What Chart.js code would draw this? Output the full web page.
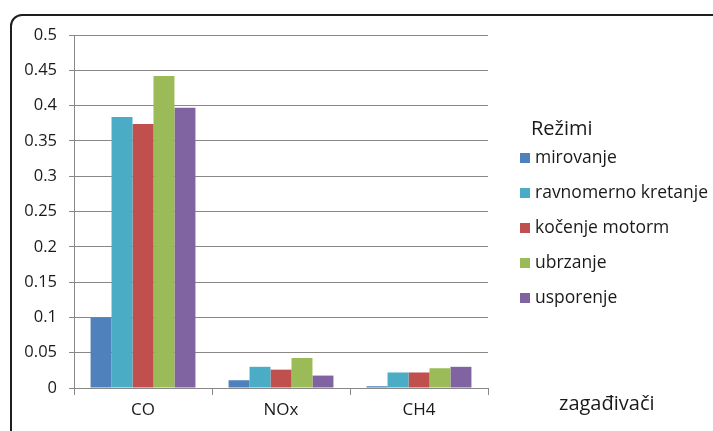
<!DOCTYPE html>
<html>
<head>
<meta charset="utf-8">
<script src="https://cdn.jsdelivr.net/npm/chart.js@4/dist/chart.umd.min.js"></script>
<style>
  html, body { margin: 0; padding: 0; background: #fff; overflow: hidden; }
  body { width: 713px; height: 431px; position: relative; font-family: "Open Sans", sans-serif; color: #1a1a1a; }
  #frame {
    position: absolute; left: 10px; top: 14px; width: 720px; height: 440px;
    border: 2px solid #1e1e1e; border-top-left-radius: 12px; box-sizing: border-box;
  }
  #chart { position: absolute; left: 0; top: 0; }
  #legend { position: absolute; left: 520px; top: 116px; }
  #legend .title { position: absolute; left: 11px; top: -2px; font-size: 20px; line-height: 28px; white-space: nowrap; }
  #legend .item { position: absolute; left: 0; font-size: 17.5px; line-height: 24px; white-space: nowrap; }
  #legend .box { display: inline-block; width: 10px; height: 10px; margin-right: 5px; vertical-align: 0px; }
  #xTitle { position: absolute; left: 559px; top: 389px; font-size: 20px; line-height: 28px; }
</style>
</head>
<body>
<div id="frame"></div>
<canvas id="chart" width="713" height="431"></canvas>
<div id="legend"></div>
<div id="xTitle">zagađivači</div>
<script>
const categories = ['CO', 'NOx', 'CH4'];
const modes = ['mirovanje', 'ravnomerno kretanje', 'kočenje motorm', 'ubrzanje', 'usporenje'];
const colors = ['#4F81BD', '#4BACC6', '#C0504D', '#9BBB59', '#8064A2'];

// one array per mode: CO, NOx, CH4
const mirovanje = [0.1, 0.011, 0.0025];
const ravnomerno = [0.384, 0.030, 0.022];
const kocenje = [0.374, 0.026, 0.022];
const ubrzanje = [0.442, 0.0425, 0.028];
const usporenje = [0.397, 0.0176, 0.030];
const series = [mirovanje, ravnomerno, kocenje, ubrzanje, usporenje];

const legendTitle = 'Režimi';

document.addEventListener('DOMContentLoaded', () => {
    const ctx = document.getElementById('chart');

    new Chart(ctx, {
        type: 'bar',
        data: {
            labels: categories,
            datasets: series.map((vals, i) => ({
                label: modes[i],
                data: vals,
                backgroundColor: colors[i],
                categoryPercentage: 0.76,
                barPercentage: 1
            }))
        },
        options: {
            responsive: false,
            animation: false,
            devicePixelRatio: 1,
            layout: { padding: { left: 0, top: 35, right: 225, bottom: 0 } },
            plugins: {
                legend: { display: false },
                tooltip: { enabled: false }
            },
            scales: {
                x: {
                    afterFit: scale => { scale.height = 43; },
                    grid: {
                        display: true,
                        drawOnChartArea: false,
                        color: '#888',
                        tickLength: 7
                    },
                    border: { color: '#888' },
                    ticks: {
                        color: '#1a1a1a',
                        padding: 5,
                        font: { family: 'Open Sans', size: 17 }
                    }
                },
                y: {
                    min: 0,
                    max: 0.5,
                    afterFit: scale => { scale.width = 74; },
                    grid: { color: '#888', tickLength: 5 },
                    border: { color: '#888' },
                    ticks: {
                        stepSize: 0.05,
                        color: '#1a1a1a',
                        padding: 12,
                        font: { family: 'Open Sans', size: 16.5 },
                        callback: v => String(parseFloat(v.toFixed(2)))
                    }
                }
            }
        }
    });

    // Legend on the right, built from the same names and colours
    const legend = document.getElementById('legend');
    legend.innerHTML = `<div class="title">${legendTitle}</div>` +
        modes.map((m, i) => `
            <div class="item" style="top:${28 + i * 35}px">
                <span class="box" style="background:${colors[i]}"></span>${m}
            </div>`).join('');
});
</script>
</body>
</html>
